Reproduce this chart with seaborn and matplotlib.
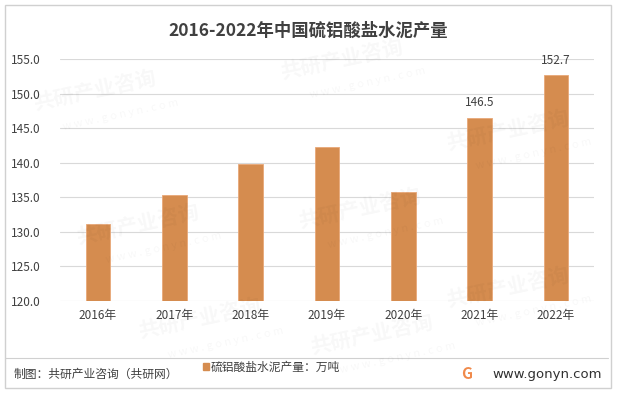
import seaborn as sns
import matplotlib.pyplot as plt
import pandas as pd
from matplotlib.patches import Rectangle

years = ['2016年', '2017年', '2018年', '2019年', '2020年', '2021年', '2022年']
output = [131.1, 135.4, 139.8, 142.3, 135.7, 146.5, 152.7]
labeled = ['2021年', '2022年']
yticks = [120, 125, 130, 135, 140, 145, 150, 155]

sns.set_style('white')
plt.rcParams['font.family'] = ['Noto Sans CJK SC', 'DejaVu Sans']

df = pd.DataFrame({'year': years, 'value': output})

fig = plt.figure(figsize=(6.17, 3.93), dpi=100)
ax = fig.add_axes([0.097, 0.234, 0.866, 0.616])

bar_color = '#D58C4F'
sns.barplot(data=df, x='year', y='value', color=bar_color, width=0.32,
            edgecolor='#E8A878', linewidth=0.6, ax=ax, saturation=1, zorder=3)

ax.set_ylim(120, 155)
ax.set_yticks(yticks)
ax.set_yticklabels([f'{v:.1f}' for v in yticks], fontsize=8.5, color='#404040')
ax.tick_params(axis='x', labelsize=8.5, colors='#404040', length=0, pad=6)
ax.tick_params(axis='y', length=0, pad=14)
ax.grid(axis='y', color='#D9D9D9', linewidth=0.8, zorder=0)
ax.set_xlabel('')
ax.set_ylabel('')
for s in ax.spines.values():
    s.set_visible(False)

for i, (y, v) in enumerate(zip(years, output)):
    if y in labeled:
        ax.text(i, v + 1.2, f'{v:.1f}', ha='center', va='bottom',
                fontsize=8.5, color='#404040')

# faint watermark
for (wx, wy) in [(0.05, 0.72), (0.45, 0.80), (0.72, 0.62), (0.12, 0.38),
                 (0.48, 0.42), (0.72, 0.22), (0.22, 0.14), (0.50, 0.10)]:
    fig.text(wx, wy, '共研产业咨询', fontsize=15, fontweight='bold',
             color='#000000', alpha=0.03, rotation=12)
    fig.text(wx + 0.05, wy - 0.05, 'w w w . g o n y n . c o m', fontsize=8,
             color='#000000', alpha=0.03, rotation=12)

fig.text(0.5, 0.922, '2016-2022年中国硫铝酸盐水泥产量', ha='center', va='center',
         fontsize=12.5, fontweight='bold', color='#404040')

# border and separator
fig.patches.append(Rectangle((0.008, 0.013), 0.982, 0.975, transform=fig.transFigure,
                             fill=False, edgecolor='#D0D0D0', linewidth=1))
fig.add_artist(plt.Line2D([0.008, 0.985], [0.089, 0.089], transform=fig.transFigure,
                          color='#D0D0D0', linewidth=0.8))

fig.patches.append(Rectangle((0.329, 0.058), 0.009, 0.018, transform=fig.transFigure,
                             color=bar_color))
fig.text(0.341, 0.066, '硫铝酸盐水泥产量：万吨', ha='left', va='center',
         fontsize=8.5, color='#404040')
fig.text(0.022, 0.048, '制图：共研产业咨询（共研网）', ha='left', va='center',
         fontsize=8.5, color='#404040')
fig.text(0.757, 0.048, 'G', ha='center', va='center', fontsize=11,
         fontweight='bold', color='#F08A4B')
fig.text(0.975, 0.048, 'www.gonyn.com', ha='right', va='center',
         fontsize=9.5, color='#303030', family='DejaVu Sans')

fig.savefig('out.png', dpi=100)
